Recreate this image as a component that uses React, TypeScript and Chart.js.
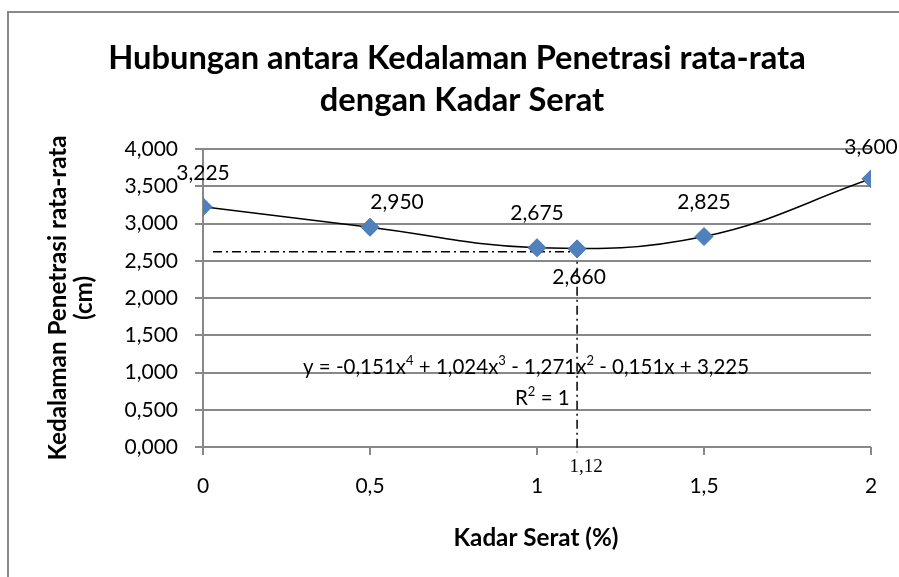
import React, { useEffect, useRef } from 'react';
import { Chart, registerables } from 'chart.js';

Chart.register(...registerables);

// ---- data ----
const kadarSerat = [0, 0.5, 1, 1.5, 2];
const kedalaman = [3.225, 2.95, 2.675, 2.825, 3.6];
const optimumX = 1.12;
const optimumY = 2.66;
const guideY = 2.62;
const guideStartX = 0.03;
const guideEndY = -0.07;
const yMin = 0;
const yMax = 4;
const yStep = 0.5;
const xMin = 0;
const xMax = 2;
const xStep = 0.5;
const optimumLabel = '1,12';
const titleLines = ['Hubungan antara Kedalaman Penetrasi rata-rata', 'dengan Kadar Serat'];
const yTitleLines = ['Kedalaman Penetrasi rata-rata', '(cm)'];
const xTitle = 'Kadar Serat (%)';
const equationSegments: Array<[string, boolean]> = [
  ['y = -0,151x', false],
  ['4', true],
  [' + 1,024x', false],
  ['3', true],
  [' - 1,271x', false],
  ['2', true],
  [' - 0,151x + 3,225', false],
];
const r2Segments: Array<[string, boolean]> = [
  ['R', false],
  ['2', true],
  [' = 1', false],
];

const fmt3 = (v: number) => v.toFixed(3).replace('.', ',');
const fmtX = (v: number) => String(v).replace('.', ',');

const FONT = 'Lato, "Open Sans", sans-serif';

export default function App() {
  const ref = useRef<HTMLCanvasElement | null>(null);

  useEffect(() => {
    const canvas = ref.current;
    if (!canvas) return;

    const pointData = kadarSerat.map((x, i) => ({ x, y: kedalaman[i] }));
    const optimumData = [{ x: optimumX, y: optimumY }];
    const guideData = [
      { x: guideStartX, y: guideY },
      { x: optimumX, y: guideY },
      { x: optimumX, y: guideEndY },
    ];

    const labelOffsets = [
      [0, -34],
      [27, -25],
      [0, -34],
      [0, -34],
      [0, -32],
    ];

    const drawSegments = (
      ctx: CanvasRenderingContext2D,
      segs: Array<[string, boolean]>,
      x: number,
      baseline: number,
      size: number,
    ) => {
      let cx = x;
      ctx.textAlign = 'left';
      ctx.textBaseline = 'alphabetic';
      for (const [t, sup] of segs) {
        ctx.font = `${sup ? Math.round(size * 0.62) : size}px ${FONT}`;
        ctx.fillText(t, cx, sup ? baseline - size * 0.42 : baseline);
        cx += ctx.measureText(t).width;
      }
    };

    const overlay = {
      id: 'overlay',
      afterDraw(chart: any) {
        const ctx: CanvasRenderingContext2D = chart.ctx;
        const xs = chart.scales.x;
        const ys = chart.scales.y;
        ctx.save();

        // outer chart border
        ctx.strokeStyle = '#888888';
        ctx.lineWidth = 2;
        ctx.strokeRect(8, 12, 1000, 1000);

        ctx.fillStyle = '#000';

        // title
        ctx.font = `bold 100px ${FONT}`;
        const tSize = (100 * 698) / ctx.measureText(titleLines[0]).width;
        ctx.font = `bold ${tSize}px ${FONT}`;
        ctx.textAlign = 'center';
        ctx.textBaseline = 'middle';
        ctx.fillText(titleLines[0], 457, 58);
        ctx.fillText(titleLines[1], 462, 100);

        // axis titles
        ctx.font = `bold 100px ${FONT}`;
        const aSize = (100 * 165) / ctx.measureText(xTitle).width;
        ctx.font = `bold ${aSize}px ${FONT}`;
        ctx.fillText(xTitle, 536, 538);
        ctx.save();
        ctx.translate(58, 298);
        ctx.rotate(-Math.PI / 2);
        ctx.fillText(yTitleLines[0], 0, 0);
        ctx.fillText(yTitleLines[1], 0, 26);
        ctx.restore();

        // data labels
        ctx.font = `21px ${FONT}`;
        ctx.textAlign = 'center';
        ctx.textBaseline = 'middle';
        kadarSerat.forEach((x, i) => {
          const px = xs.getPixelForValue(x) + labelOffsets[i][0];
          const py = ys.getPixelForValue(kedalaman[i]) + labelOffsets[i][1];
          ctx.fillText(fmt3(kedalaman[i]), px, py);
        });
        ctx.fillText(
          fmt3(optimumY),
          xs.getPixelForValue(optimumX) + 2,
          ys.getPixelForValue(optimumY) + 28,
        );

        // optimum x label (serif)
        ctx.font = '19px "Liberation Serif", "Times New Roman", serif';
        ctx.fillText(optimumLabel, xs.getPixelForValue(optimumX) + 9, 467);

        // trendline equation
        drawSegments(ctx, equationSegments, 303, 374, 20.5);
        drawSegments(ctx, r2Segments, 515, 405, 20.5);

        ctx.restore();
      },
    };

    const gridColor = '#888888';

    const chart = new Chart(canvas, {
      type: 'scatter',
      data: {
        datasets: [
          {
            label: 'points',
            data: pointData,
            pointStyle: 'rectRot',
            pointRadius: 9,
            pointBackgroundColor: '#4F81BD',
            pointBorderColor: '#4776B0',
            pointBorderWidth: 1,
            showLine: false,
          },
          {
            label: 'optimum',
            data: optimumData,
            pointStyle: 'rectRot',
            pointRadius: 9,
            pointBackgroundColor: '#4F81BD',
            pointBorderColor: '#4776B0',
            pointBorderWidth: 1,
            showLine: false,
          },
          {
            label: 'trend',
            data: pointData,
            showLine: true,
            tension: 0.4,
            borderColor: '#000',
            borderWidth: 1.5,
            pointRadius: 0,
            fill: false,
          },
          {
            label: 'guide',
            data: guideData,
            showLine: true,
            tension: 0,
            borderColor: '#000',
            borderWidth: 1.5,
            borderDash: [9, 4, 2, 4],
            pointRadius: 0,
            fill: false,
            clip: false as any,
          },
        ],
      },
      options: {
        responsive: false,
        animation: false,
        events: [],
        layout: { padding: { top: 149, right: 28, left: 0, bottom: 0 } },
        plugins: {
          legend: { display: false },
          title: { display: false },
          tooltip: { enabled: false },
        },
        scales: {
          x: {
            type: 'linear',
            min: xMin,
            max: xMax,
            afterFit: (s: any) => {
              s.height = 130;
            },
            ticks: {
              stepSize: xStep,
              callback: (v: any) => fmtX(Number(v)),
              color: '#000',
              font: { family: FONT, size: 21 },
              padding: 19,
              maxRotation: 0,
            },
            grid: {
              drawOnChartArea: false,
              drawTicks: true,
              tickLength: 8,
              color: gridColor,
              lineWidth: 2,
            },
            border: { display: false },
          },
          y: {
            type: 'linear',
            min: yMin,
            max: yMax,
            afterFit: (s: any) => {
              s.width = 203;
            },
            ticks: {
              stepSize: yStep,
              callback: (v: any) => fmt3(Number(v)),
              color: '#000',
              font: { family: FONT, size: 21 },
              padding: 17,
            },
            grid: {
              drawOnChartArea: true,
              drawTicks: true,
              tickLength: 8,
              color: gridColor,
              lineWidth: 2,
            },
            border: { display: true, color: gridColor, width: 2 },
          },
        },
      },
      plugins: [overlay],
    });

    return () => chart.destroy();
  }, []);

  return (
    <div style={{ position: 'fixed', left: 0, top: 0, width: 899, height: 577, background: '#fff' }}>
      <canvas ref={ref} width={899} height={577} style={{ display: 'block' }} />
    </div>
  );
}
